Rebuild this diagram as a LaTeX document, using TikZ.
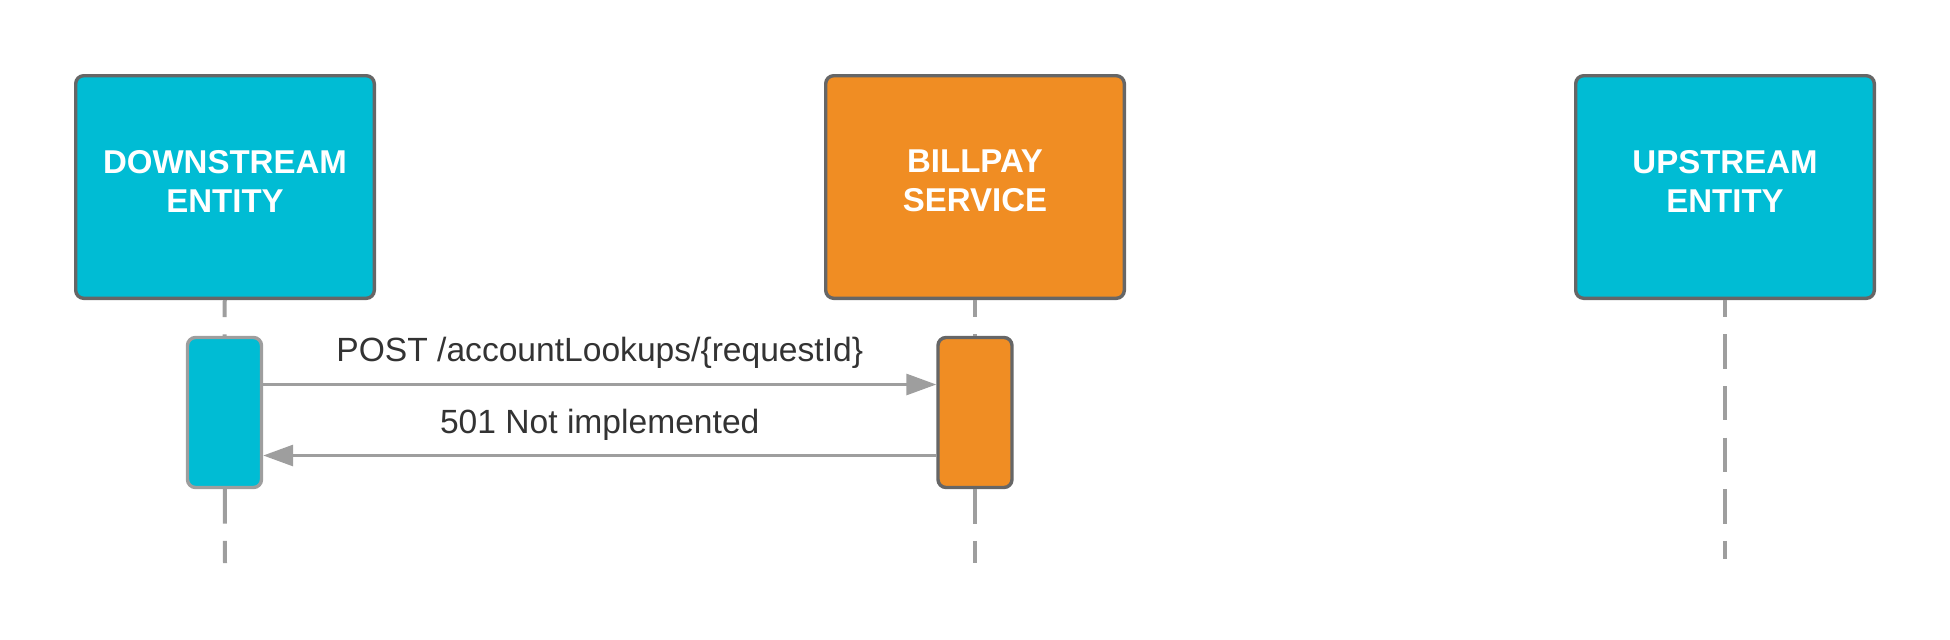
\documentclass[tikz,border=0pt]{standalone}
\usepackage{fontspec}
\setmainfont{Liberation Sans}
\usetikzlibrary{arrows.meta}
\definecolor{cyanbox}{HTML}{00BCD4}
\definecolor{orangebox}{HTML}{F08D23}
\definecolor{edgegray}{HTML}{666666}
\definecolor{linegray}{HTML}{9E9E9E}
\definecolor{textgray}{HTML}{333333}

\begin{document}
\begin{tikzpicture}[
  x=.5pt,y=-.5pt,
  party/.style={draw=edgegray,line width=1.7pt,rounded corners=4pt,
    minimum width=149.3pt,minimum height=111.3pt,text=white,align=center,
    font=\bfseries\fontsize{16.5}{19.5}\selectfont},
  act/.style={line width=1.7pt,rounded corners=4pt,minimum width=37pt,minimum height=75pt},
  life/.style={draw=linegray,line width=2pt,dash pattern=on 17.2pt off 8.6pt},
  msg/.style={draw=linegray,line width=1.5pt,-{Triangle[length=15pt,width=10.5pt]}},
  lbl/.style={text=textgray,inner sep=0pt,text depth=0pt,font=\fontsize{16.8}{20}\selectfont}
]
\useasboundingbox (0,0) rectangle (1950,639);
\node[party,fill=cyanbox] (down) at (225,187) {DOWNSTREAM\\ENTITY\rule[-6pt]{0pt}{6pt}};
\node[party,fill=orangebox] (bill) at (975,187) {BILLPAY\\SERVICE\rule[-6pt]{0pt}{6pt}};
\node[party,fill=cyanbox] (up) at (1725,187) {UPSTREAM\\ENTITY\rule[-6pt]{0pt}{6pt}};
\node[act,draw=linegray,fill=cyanbox] (downact) at (224.5,412.5) {};
\node[act,draw=edgegray,fill=orangebox] (billact) at (975,412.5) {};
\coordinate (downend) at (225,563);
\coordinate (billend) at (975,563);
\coordinate (upend) at (1725,559);
% lifelines
\draw[life,dash phase=8.6pt] (down) -- (downact);
\draw[life,dash phase=8.6pt] (bill) -- (billact);
\draw[life] (downact) -- (downend);
\draw[life] (billact) -- (billend);
\draw[life,dash phase=8.6pt] (up) -- (upend);
% messages
\draw[msg] ([yshift=14pt]downact.east) -- node[lbl,above=11pt] {POST /accountLookups/\{requestId\}} ([yshift=14pt]billact.west);
\draw[msg] ([yshift=-21.5pt]billact.west) -- node[lbl,above=10.5pt] {501 Not implemented} ([yshift=-21.5pt]downact.east);
\end{tikzpicture}
\end{document}
